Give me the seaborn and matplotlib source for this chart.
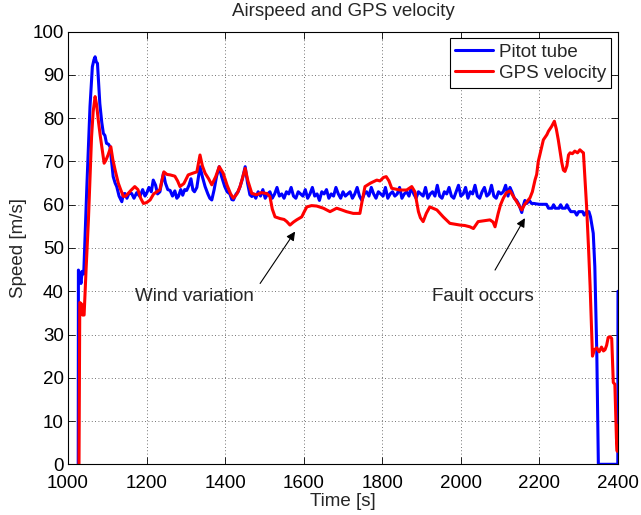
import numpy as np
import pandas as pd
import matplotlib
matplotlib.use("Agg")
import matplotlib.pyplot as plt
import seaborn as sns

# ---- Pitot tube airspeed [m/s] ----
pitot_t = [
    1026, 1026.5, 1030, 1033, 1036, 1040, 1048, 1056, 1062, 1066,
    1069, 1072, 1075, 1081, 1086, 1090, 1094, 1098, 1103, 1107,
    1111, 1115, 1120, 1124, 1130, 1137, 1141, 1145, 1150, 1155,
    1162, 1168, 1175, 1183, 1190, 1196, 1200, 1206, 1212, 1217,
    1223, 1228, 1234, 1238, 1243, 1248, 1254, 1260, 1266, 1272,
    1277, 1281, 1287, 1292, 1297, 1302, 1308, 1313, 1318, 1322,
    1328, 1336, 1342, 1349, 1356, 1361, 1366, 1372, 1378, 1385,
    1391, 1399, 1405, 1412, 1417, 1421, 1428, 1433, 1438, 1444,
    1451, 1457, 1463, 1468,
    1472, 1478, 1484, 1490, 1496, 1502, 1508, 1514, 1520, 1526,
    1532, 1538, 1544, 1550, 1556, 1562, 1568, 1574, 1580, 1586,
    1592, 1598, 1604, 1610, 1616, 1622, 1628, 1634, 1640, 1646,
    1652, 1658, 1664, 1670, 1676, 1682, 1688, 1694, 1700, 1706,
    1712, 1718, 1724, 1730, 1736, 1742, 1748, 1754, 1760, 1766,
    1772, 1778, 1784, 1790, 1796, 1802, 1808, 1814, 1820, 1826,
    1832, 1838, 1844, 1850, 1856, 1862, 1868, 1874, 1880, 1886,
    1892, 1898, 1904, 1910, 1916, 1922, 1928, 1934, 1940, 1946,
    1952, 1958, 1964, 1970, 1976, 1982, 1988, 1994, 2000, 2006,
    2012, 2018, 2024, 2030, 2036, 2042, 2048, 2054, 2060, 2066,
    2072, 2078, 2084, 2090, 2096, 2102,
    2108, 2114, 2120, 2125, 2130, 2136, 2142, 2148, 2152, 2155,
    2158, 2163, 2168, 2174, 2180, 2186, 2192, 2200, 2210, 2218,
    2223, 2232, 2236, 2240, 2250, 2254, 2258, 2266, 2270, 2274,
    2280, 2290, 2295, 2300, 2310, 2314, 2320, 2326, 2330, 2334,
    2337, 2341, 2346, 2350, 2397, 2399.5, 2400,
]
pitot_v = [
    0, 44.9, 44, 41.8, 44.6, 44, 64.2, 82.7, 91.9, 93.5,
    94.2, 93, 92.7, 83.4, 79, 76.5, 76, 74.2, 74, 73.4,
    70, 66.5, 65, 64.2, 62, 60.7, 62.5, 62.6, 61.5, 62.6,
    62.6, 61.5, 62.8, 61.9, 63.5, 62, 62.6, 64, 63, 65.7,
    64.5, 62.5, 63, 65, 67.3, 65, 63.5, 63.3, 62, 63.2,
    61.5, 61.9, 63.5, 62.2, 63.5, 63.3, 64.5, 66, 63.4, 63,
    64, 68.8, 66.5, 64.2, 62.5, 61.5, 61.1, 63.5, 66.5, 68.8,
    66.5, 64.2, 63, 62.5, 61.2, 61.1, 62.5, 63, 64.2, 66,
    68.8, 65, 62.3, 61.9,
    62.5, 61.5, 63, 62, 63.5, 61.5, 62.5, 63, 61.5, 62.5,
    64, 62, 62.5, 61.5, 63, 62.5, 64, 62, 61.5, 63,
    62.5, 62, 63.5, 61.5, 62.5, 64, 62, 62.5, 61, 63,
    62.5, 63.5, 61.5, 62.5, 62, 64, 62.5, 61.5, 63, 62,
    62.5, 63, 61.5, 62.5, 64, 62, 61, 62.5, 63, 62,
    64, 62.5, 61.5, 63, 62.5, 62, 64, 61.5, 62.5, 63,
    62, 62.5, 64, 61.5, 62.5, 63, 62, 64, 62.5, 61.5,
    63, 62.5, 62, 64, 61.5, 62.5, 63, 62, 64.5, 62,
    61.5, 63, 62.5, 64, 62, 61.5, 63, 64.5, 62, 62.5,
    64, 61.5, 63, 62.5, 64.5, 62, 61.5, 63, 64, 62,
    62.5, 64.5, 62, 61.5, 63, 62.5,
    63, 64.5, 62, 64, 63, 61.5, 61, 60, 59, 58.2,
    59.5, 61, 60.3, 61, 60.3, 60.3, 60.2, 60.1, 60.1, 60.1,
    59.2, 59.2, 60, 59.2, 59.2, 60, 59.2, 59.2, 60, 59.2,
    58.4, 58.4, 57.6, 58.4, 58.4, 57.6, 58.4, 58.4, 57.2, 55,
    53.4, 45.7, 26, 0, 0, 0, 40,
]

# ---- GPS ground speed [m/s] ----
gps_t = [
    1028, 1030, 1035, 1037, 1041, 1046, 1052, 1056, 1060, 1064,
    1069, 1073, 1077, 1082, 1086, 1092, 1096, 1102, 1109, 1114,
    1120, 1128, 1134, 1141, 1147, 1153, 1160, 1170, 1178, 1185,
    1192, 1200, 1209, 1218, 1226, 1234, 1239, 1244, 1252, 1260,
    1272, 1279, 1285, 1295, 1306, 1318, 1328, 1336, 1342, 1349,
    1358, 1366, 1376, 1385, 1395, 1405, 1414, 1421, 1430, 1438,
    1445, 1451, 1458, 1468, 1480, 1492, 1506, 1514, 1520, 1527,
    1540, 1550, 1557, 1565, 1574, 1582, 1595, 1602, 1608, 1620,
    1633, 1650, 1667, 1684, 1697, 1709, 1726, 1743, 1749, 1756,
    1770, 1786, 1794, 1803, 1810, 1817, 1824, 1845, 1862, 1875,
    1883, 1892, 1897, 1904, 1912, 1921, 1939, 1955, 1972, 1985,
    1998, 2010, 2023, 2032, 2044, 2060, 2074, 2082, 2087, 2095,
    2101, 2108, 2116, 2125, 2134, 2142, 2150, 2155, 2162, 2168,
    2176, 2182, 2189, 2193, 2197, 2201, 2210, 2219, 2223, 2231,
    2238, 2243, 2248, 2253, 2257, 2261, 2265, 2270, 2274, 2278,
    2284, 2290, 2297, 2303, 2309, 2312, 2316, 2320, 2325, 2329,
    2332, 2335, 2340, 2346, 2352, 2358, 2363, 2367, 2371, 2375,
    2380, 2384, 2386, 2388, 2392, 2394, 2396, 2398, 2399, 2400,
]
gps_v = [
    0, 37.4, 37, 34.5, 34.5, 45, 56.5, 66, 75.7, 81.5,
    85, 83, 79.6, 76, 73.4, 69.6, 70.2, 71.5, 73.4, 70.5,
    68, 65, 63.5, 61.9, 62, 62.6, 63.3, 64.2, 63.5, 61.5,
    60.3, 60.5, 61.1, 62.5, 63, 63.5, 65.5, 67.6, 67, 66.9,
    66.6, 65.5, 64.2, 64.9, 66.9, 67.3, 67.6, 71.5, 69, 67.3,
    66, 64.6, 66.5, 68.8, 67.3, 64.5, 62.5, 61.5, 62.5, 64.2,
    66.5, 68.4, 65.5, 62.6, 62.3, 62.8, 62.6, 61.9, 59, 57.2,
    56.8, 56.6, 56.1, 55.3, 56, 56.5, 57.2, 58.5, 59.5, 59.8,
    59.7, 59.2, 58.4, 59.2, 58.8, 58.4, 58, 58, 61, 64.2,
    65, 65.7, 65.5, 66.3, 66.5, 65.5, 63.8, 63.4, 63.4, 64.2,
    63, 58.4, 57, 56.1, 58, 59.5, 58.8, 57.2, 55.7, 55.5,
    55.3, 55.2, 54.9, 54.5, 56.1, 56.3, 56.5, 56, 54.9, 58,
    60, 61.5, 62.8, 63.2, 61.9, 60.7, 59.5, 58.8, 60, 60.7,
    61.6, 63, 65.8, 67, 70, 71.5, 75, 76.2, 77, 78.1,
    79.3, 77.5, 75, 72, 69.7, 68, 67.7, 69, 71.5, 72,
    71.8, 72.4, 72, 72.7, 72.2, 72, 66, 59.7, 50, 41.2,
    33, 25, 26.5, 26.9, 26, 27.1, 26.2, 26.5, 27.5, 29.3,
    29.5, 29.1, 24, 18.9, 18.5, 12, 6, 3, 9, 4,
]

series_names = ["Pitot tube", "GPS velocity"]
series_colors = ["#0000ff", "#ff0000"]
x_ticks = [1000, 1200, 1400, 1600, 1800, 2000, 2200, 2400]
y_ticks = [0, 10, 20, 30, 40, 50, 60, 70, 80, 90, 100]

df = pd.concat([
    pd.DataFrame({"Time": pitot_t, "Speed": pitot_v, "Sensor": series_names[0]}),
    pd.DataFrame({"Time": gps_t, "Speed": gps_v, "Sensor": series_names[1]}),
], ignore_index=True)

sns.set_style("ticks")
plt.rcParams["font.family"] = ["Liberation Sans", "DejaVu Sans"]
plt.rcParams["xtick.direction"] = "in"
plt.rcParams["ytick.direction"] = "in"

FS = 13.5

fig = plt.figure(figsize=(6.41, 5.15), dpi=100)
ax = fig.add_axes([68 / 641, 1 - 464.3 / 515, 550 / 641, (464.3 - 31.7) / 515])

sns.lineplot(data=df, x="Time", y="Speed", hue="Sensor",
             palette=dict(zip(series_names, series_colors)),
             sort=False, estimator=None, lw=2.2, ax=ax)

ax.set_xlim(1000, 2400)
ax.set_ylim(0, 100)
ax.set_xticks(x_ticks)
ax.set_yticks(y_ticks)
ax.tick_params(axis="both", which="both", direction="in", top=True, right=True,
               length=5, width=0.6, labelsize=FS, colors="black")
ax.tick_params(axis="x", pad=8)
ax.tick_params(axis="y", pad=3)
for s in ax.spines.values():
    s.set_linewidth(0.8)
    s.set_color("black")

ax.grid(True, color="#444444", linestyle=(0, (1, 3)), linewidth=0.6)
ax.set_axisbelow(True)

ax.set_title("Airspeed and GPS velocity", fontsize=FS, pad=11)
ax.set_xlabel("Time [s]", fontsize=FS, labelpad=0.5)
ax.set_ylabel("Speed [m/s]", fontsize=FS, labelpad=4)

leg = ax.legend(loc="upper right", fontsize=FS, frameon=True, fancybox=False,
                framealpha=1, edgecolor="black", handlelength=2.0,
                handletextpad=0.3, borderaxespad=0.35, borderpad=0.3,
                labelspacing=0.2, title=None)
leg.get_frame().set_linewidth(0.8)
for line in leg.get_lines():
    line.set_linewidth(2.2)

arrow = dict(arrowstyle="-|>", color="black", lw=0.8, mutation_scale=13,
             shrinkA=0, shrinkB=0)
ax.annotate("", xy=(1578, 53.8), xytext=(1489, 41.8), arrowprops=arrow)
ax.text(1170, 38.7, "Wind variation", fontsize=FS, ha="left", va="center")
ax.annotate("", xy=(2163, 56.9), xytext=(2087, 44.9), arrowprops=arrow)
ax.text(1927, 38.7, "Fault occurs", fontsize=FS, ha="left", va="center")

fig.savefig("out.png", dpi=100, facecolor="white")
